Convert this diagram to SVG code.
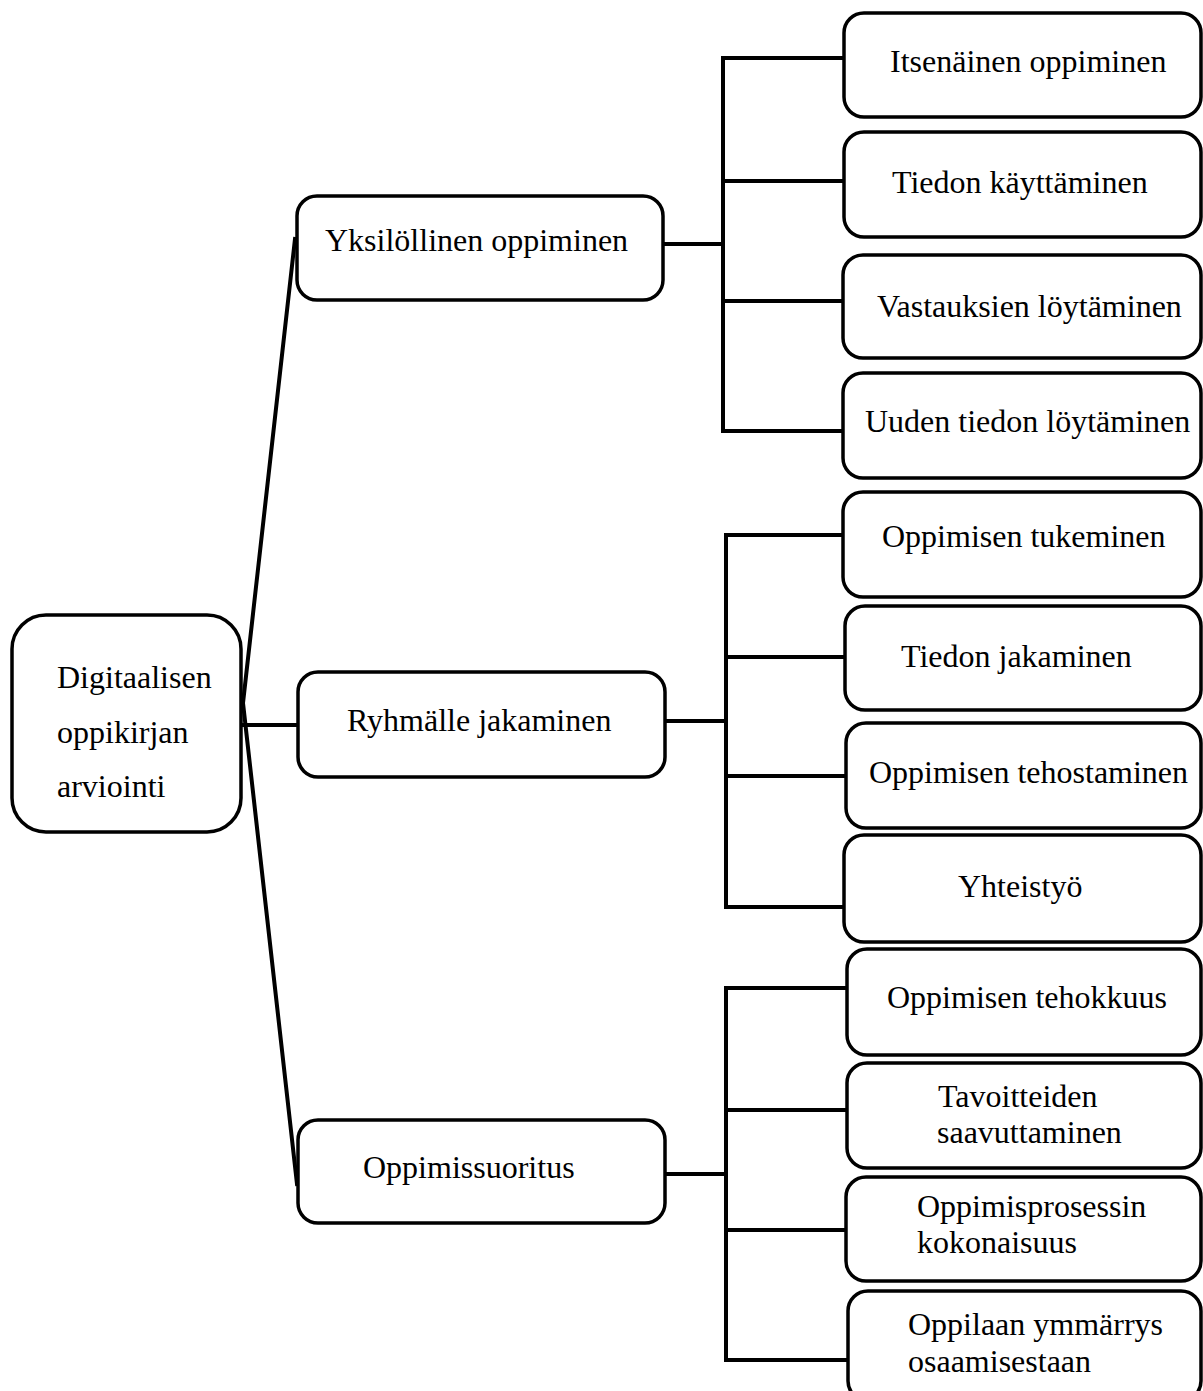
<svg xmlns="http://www.w3.org/2000/svg" width="1203" height="1391" viewBox="0 0 1203 1391">
<style>
.box{fill:#fff;stroke:#000;stroke-width:3.5}
.ln{fill:none;stroke:#000;stroke-width:4;stroke-linecap:square}
text{font-family:"Liberation Serif","Times New Roman",serif;font-size:32px;fill:#000}
</style>
<rect width="1203" height="1391" fill="#fff"/>
<g id="connectors">
<polyline class="ln" points="295,239 243,703 297,1184"/>
<line class="ln" x1="243" y1="725" x2="297" y2="725"/>
<line class="ln" x1="663" y1="244" x2="723" y2="244"/>
<polyline class="ln" points="844,58 723,58 723,431 844,431"/>
<line class="ln" x1="723" y1="181" x2="844" y2="181"/>
<line class="ln" x1="723" y1="301" x2="843" y2="301"/>
<line class="ln" x1="665" y1="721" x2="726" y2="721"/>
<polyline class="ln" points="843,535 726,535 726,907 844,907"/>
<line class="ln" x1="726" y1="657" x2="845" y2="657"/>
<line class="ln" x1="726" y1="776" x2="846" y2="776"/>
<line class="ln" x1="665" y1="1174" x2="726" y2="1174"/>
<polyline class="ln" points="847,988 726,988 726,1360 848,1360"/>
<line class="ln" x1="726" y1="1110" x2="847" y2="1110"/>
<line class="ln" x1="726" y1="1230" x2="846" y2="1230"/>
</g>
<g id="root"><rect class="box" x="12" y="615" width="229" height="217" rx="34"/>
<text x="57" y="688">Digitaalisen</text><text x="57" y="743">oppikirjan</text><text x="57" y="797">arviointi</text></g>
<g id="mid1"><rect class="box" x="297" y="196" width="366" height="104" rx="20"/><text x="325" y="251">Yksilöllinen oppiminen</text></g>
<g id="mid2"><rect class="box" x="298" y="672" width="367" height="105" rx="20"/><text x="347" y="731">Ryhmälle jakaminen</text></g>
<g id="mid3"><rect class="box" x="298" y="1120" width="367" height="103" rx="20"/><text x="363" y="1178">Oppimissuoritus</text></g>
<g id="n1"><rect class="box" x="844" y="13" width="357" height="104" rx="20"/><text x="890" y="72">Itsenäinen oppiminen</text></g>
<g id="n2"><rect class="box" x="844" y="132" width="357" height="105" rx="20"/><text x="892" y="193">Tiedon käyttäminen</text></g>
<g id="n3"><rect class="box" x="843" y="255" width="358" height="103" rx="20"/><text x="877" y="317">Vastauksien löytäminen</text></g>
<g id="n4"><rect class="box" x="843" y="373" width="358" height="105" rx="20"/><text x="865" y="432">Uuden tiedon löytäminen</text></g>
<g id="n5"><rect class="box" x="843" y="492" width="358" height="105" rx="20"/><text x="882" y="547">Oppimisen tukeminen</text></g>
<g id="n6"><rect class="box" x="845" y="606" width="356" height="104" rx="20"/><text x="901" y="667">Tiedon jakaminen</text></g>
<g id="n7"><rect class="box" x="846" y="723" width="355" height="105" rx="20"/><text x="869" y="783">Oppimisen tehostaminen</text></g>
<g id="n8"><rect class="box" x="844" y="835" width="357" height="107" rx="20"/><text x="958" y="897">Yhteistyö</text></g>
<g id="n9"><rect class="box" x="847" y="949" width="354" height="106" rx="20"/><text x="887" y="1008">Oppimisen tehokkuus</text></g>
<g id="n10"><rect class="box" x="847" y="1063" width="354" height="105" rx="20"/><text x="938" y="1107">Tavoitteiden</text><text x="937" y="1143">saavuttaminen</text></g>
<g id="n11"><rect class="box" x="846" y="1177" width="355" height="104" rx="20"/><text x="917" y="1217">Oppimisprosessin</text><text x="917" y="1253">kokonaisuus</text></g>
<g id="n12"><rect class="box" x="848" y="1291" width="353" height="110" rx="20"/><text x="908" y="1335">Oppilaan ymmärrys</text><text x="908" y="1372">osaamisestaan</text></g>
</svg>
